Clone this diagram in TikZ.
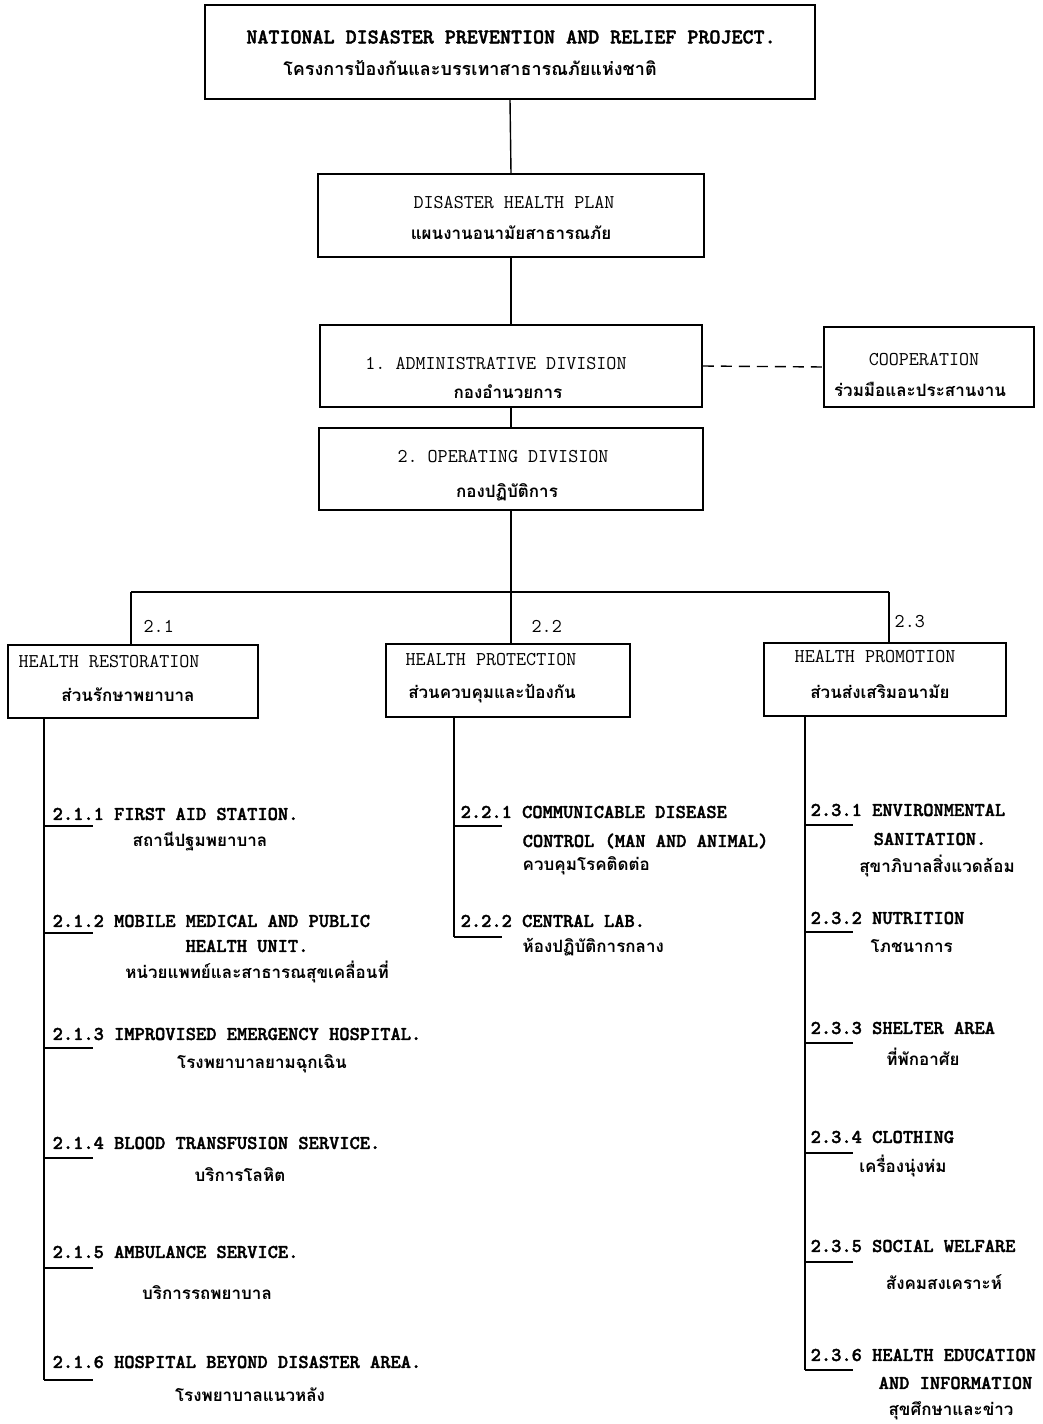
\documentclass[tikz,border=0pt]{standalone}
\usepackage{fontspec}
\newfontfamily\thai[Script=Thai]{Loma}
\newfontfamily\twb[FakeBold=1.8]{lmmonolt10-bold.otf}
\begin{document}
\frenchspacing
\begin{tikzpicture}[x=1pt,y=-1pt,line width=1.4pt,
  box/.style={draw,line width=1.7pt,inner sep=0pt},
  en/.style={font=\ttfamily\fontsize{19.5}{22}\selectfont,inner sep=0pt},
  enb/.style={font=\twb\fontsize{19.5}{22}\selectfont,inner sep=0pt},
  ent/.style={font=\twb\fontsize{21}{24}\selectfont,inner sep=0pt},
  th/.style={font=\thai\bfseries\fontsize{17}{20}\selectfont,inner sep=0pt},
  tht/.style={font=\thai\bfseries\fontsize{18}{21}\selectfont,inner sep=0pt},
  tick/.style={line width=1.7pt},
  spine/.style={line width=1.7pt}]
\useasboundingbox (0,0) rectangle (1042,1424);

% top levels
\node[box,minimum width=610pt,minimum height=94pt] (top) at (510,52) {};
\node[ent] (topen) at (511,37) {NATIONAL DISASTER PREVENTION AND RELIEF PROJECT.};
\node[tht] (topth) at (470,68) {โครงการป้องกันและบรรเทาสาธารณภัยแห่งชาติ};

\node[box,minimum width=386pt,minimum height=83pt] (dhp) at (511,215.5) {};
\node[en] (dhpen) at (514,203) {DISASTER HEALTH PLAN};
\node[th] (dhpth) at (511,233) {แผนงานอนามัยสาธารณภัย};

\node[box,minimum width=382pt,minimum height=82pt] (adm) at (511,366) {};
\node[en] (admen) at (496,364) {1. ADMINISTRATIVE DIVISION};
\node[th] (admth) at (508,392) {กองอำนวยการ};

\node[box,minimum width=210pt,minimum height=80pt] (coop) at (929,367) {};
\node[en] (coopen) at (924,360) {COOPERATION};
\node[th] (coopth) at (920,389) {ร่วมมือและประสานงาน};

\node[box,minimum width=384pt,minimum height=82pt] (opd) at (511,469) {};
\node[en] (opden) at (503,457) {2. OPERATING DIVISION};
\node[th] (opdth) at (507,492) {กองปฏิบัติการ};

\draw (top.south) -- (dhp.north);
\draw (dhp.south) -- (adm.north);
\draw (adm.south) -- (opd.north);
\draw[dashed,dash pattern=on 11pt off 7pt] (adm.east) -- (coop.west);

% bar
\coordinate (barL) at (131,592);
\coordinate (barR) at (889,592);
\coordinate (barM) at (511,592);
\draw (opd.south) -- (barM);
\draw (barL) -- (barR);

\node[box,minimum width=250pt,minimum height=73pt] (b1) at (133,681.5) {};
\node[box,minimum width=244pt,minimum height=73pt] (b2) at (508,680.5) {};
\node[box,minimum width=242pt,minimum height=73pt] (b3) at (885,679.5) {};
\draw (barL) -- (barL |- b1.north);
\draw (barM) -- (barM |- b2.north);
\draw (barR) -- (barR |- b3.north);

\node[en,anchor=west] (l21) at (143,626) {2.1};
\node[en,anchor=west] (l22) at (531,626) {2.2};
\node[en,anchor=west] (l23) at (894,622) {2.3};

\node[en,anchor=west] (b1en) at (18,662) {HEALTH RESTORATION};
\node[th] (b1th) at (128,695) {ส่วนรักษาพยาบาล};
\node[en,anchor=west] (b2en) at (405,660) {HEALTH PROTECTION};
\node[th] (b2th) at (492,694) {ส่วนควบคุมและป้องกัน};
\node[en,anchor=west] (b3en) at (794,657) {HEALTH PROMOTION};
\node[th] (b3th) at (880,692) {ส่วนส่งเสริมอนามัย};

% spine 1
\coordinate (s1) at (44,1380);
\draw[spine] (s1 |- b1.south) -- (s1);
\node[enb,anchor=west] (i211) at (52,814) {2.1.1 FIRST AID STATION.};
\node[th] (i211t) at (200,842) {สถานีปฐมพยาบาล};
\node[enb,anchor=west] (i212) at (52,921) {2.1.2 MOBILE MEDICAL AND PUBLIC};
\node[enb] (i212b) at (247,946) {HEALTH UNIT.};
\node[th] (i212t) at (257,972) {หน่วยแพทย์และสาธารณสุขเคลื่อนที่};
\node[enb,anchor=west] (i213) at (52,1034) {2.1.3 IMPROVISED EMERGENCY HOSPITAL.};
\node[th] (i213t) at (262,1064) {โรงพยาบาลยามฉุกเฉิน};
\node[enb,anchor=west] (i214) at (52,1143) {2.1.4 BLOOD TRANSFUSION SERVICE.};
\node[th] (i214t) at (240,1175) {บริการโลหิต};
\node[enb,anchor=west] (i215) at (52,1252) {2.1.5 AMBULANCE SERVICE.};
\node[th] (i215t) at (207,1293) {บริการรถพยาบาล};
\node[enb,anchor=west] (i216) at (52,1362) {2.1.6 HOSPITAL BEYOND DISASTER AREA.};
\node[th] (i216t) at (250,1395) {โรงพยาบาลแนวหลัง};
\foreach \y in {826,933,1048,1158,1268,1380}
  \draw[tick] (44,\y) -- (93,\y);

% spine 2
\coordinate (s2) at (454,937);
\draw[spine] (s2 |- b2.south) -- (s2);
\node[enb,anchor=west] (i221) at (460,812) {2.2.1 COMMUNICABLE DISEASE};
\node[enb,anchor=west] (i221b) at (522,841) {CONTROL (MAN AND ANIMAL)};
\node[th,anchor=west] (i221t) at (522,866) {ควบคุมโรคติดต่อ};
\node[enb,anchor=west] (i222) at (460,921) {2.2.2 CENTRAL LAB.};
\node[th,anchor=west] (i222t) at (522,947) {ห้องปฏิบัติการกลาง};
\foreach \y in {826,937}
  \draw[tick] (454,\y) -- (502,\y);

% spine 3
\coordinate (s3) at (805,1370);
\draw[spine] (s3 |- b3.south) -- (s3);
\node[enb,anchor=west] (i231) at (810,810) {2.3.1 ENVIRONMENTAL};
\node[enb] (i231b) at (930,839) {SANITATION.};
\node[th] (i231t) at (937,866) {สุขาภิบาลสิ่งแวดล้อม};
\node[enb,anchor=west] (i232) at (810,918) {2.3.2 NUTRITION};
\node[th,anchor=west] (i232t) at (870,946) {โภชนาการ};
\node[enb,anchor=west] (i233) at (810,1028) {2.3.3 SHELTER AREA};
\node[th] (i233t) at (923,1057) {ที่พักอาศัย};
\node[enb,anchor=west] (i234) at (810,1137) {2.3.4 CLOTHING};
\node[th] (i234t) at (903,1166) {เครื่องนุ่งห่ม};
\node[enb,anchor=west] (i235) at (810,1246) {2.3.5 SOCIAL WELFARE};
\node[th] (i235t) at (944,1282) {สังคมสงเคราะห์};
\node[enb,anchor=west] (i236) at (810,1355) {2.3.6 HEALTH EDUCATION};
\node[enb,anchor=west] (i236b) at (878,1383) {AND INFORMATION};
\node[th] (i236t) at (951,1411) {สุขศึกษาและข่าว};
\foreach \y in {825,932,1043,1153,1262,1370}
  \draw[tick] (805,\y) -- (853,\y);
\end{tikzpicture}
\end{document}
